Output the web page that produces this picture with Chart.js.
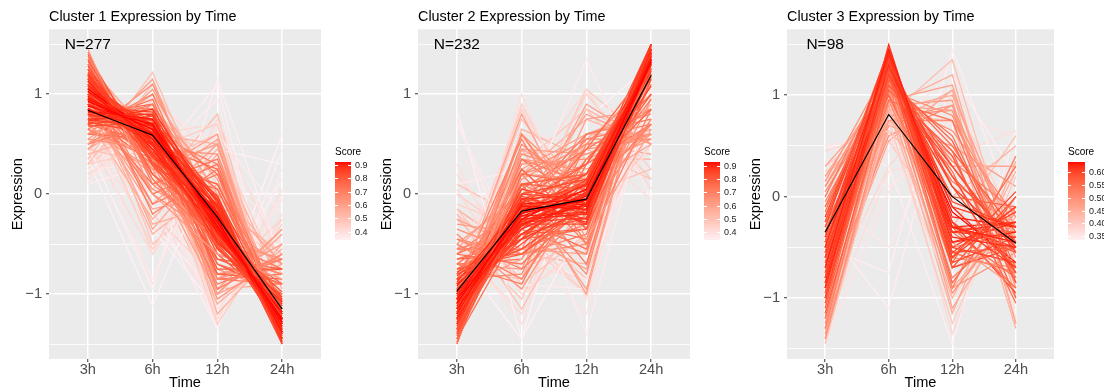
<!DOCTYPE html>
<html>
<head>
<meta charset="utf-8">
<script src="https://cdn.jsdelivr.net/npm/chart.js@4"></script>
<style>
  body { margin: 0; background: #fff; width: 1104px; height: 389px; overflow: hidden; position: relative; }
  canvas { position: absolute; top: 0; }
</style>
</head>
<body>
<canvas id="c1" width="369" height="389" style="left:0px"></canvas>
<canvas id="c2" width="369" height="389" style="left:369px"></canvas>
<canvas id="c3" width="366" height="389" style="left:738px"></canvas>
<script>
const times = ['3h', '6h', '12h', '24h'];
const yTicks = [-1.5, -1, -0.5, 0, 0.5, 1, 1.5];

// each line: 3h, 6h, 12h, 24h, score
const c1Lines = [
  [0.93,0.65,-0.28,-1.28,0.92],[1.03,0.55,-0.18,-1.38,0.91],[0.83,0.75,-0.38,-1.18,0.91],[1.13,0.45,-0.28,-1.28,0.89],
  [0.73,0.85,-0.18,-1.38,0.88],[1.03,0.55,-0.48,-1.08,0.88],[1.2,0.37,-0.14,-1.42,0.86],[0.78,0.8,-0.48,-1.08,0.87],
  [0.9,0.62,-0.06,-1.45,0.88],[1.13,0.45,-0.38,-1.18,0.9],[0.83,0.74,-0.08,-1.48,0.86],[1.05,0.6,-0.25,-1.38,0.92],
  [0.88,0.7,-0.32,-1.25,0.92],[0.98,0.58,-0.2,-1.33,0.91],[0.95,0.68,-0.35,-1.25,0.91],[0.85,0.62,-0.22,-1.3,0.9],
  [1.1,0.5,-0.33,-1.25,0.89],[0.8,0.68,-0.15,-1.4,0.88],[1.25,0.4,-0.35,-1.3,0.85],[0.7,0.78,-0.05,-1.45,0.84],
  [1.0,0.7,-0.45,-1.2,0.87],[0.9,0.5,-0.12,-1.35,0.88],[1.15,0.6,-0.5,-1.2,0.85],[0.75,0.65,-0.25,-1.18,0.86],
  [1.3,0.3,-0.45,-1.15,0.8],[1.22,0.4,-0.4,-1.22,0.84],[1.18,0.3,-0.25,-1.25,0.83],[1.08,0.42,-0.1,-1.4,0.86],
  [0.95,0.52,-0.02,-1.47,0.85],[0.68,0.72,-0.3,-1.12,0.82],[1.0,0.62,-0.55,-1.1,0.84],[0.92,0.78,-0.42,-1.28,0.86],
  [1.12,0.66,-0.4,-1.38,0.83],[0.86,0.56,-0.36,-1.06,0.85],[1.06,0.48,-0.3,-1.24,0.9],[0.97,0.6,-0.13,-1.44,0.87],
  [0.8,0.58,-0.4,-0.98,0.82],[1.35,0.2,-0.3,-1.25,0.78],[1.42,0.1,-0.45,-1.07,0.7],[1.45,0.0,-0.6,-0.85,0.62],
  [1.38,0.15,-0.5,-1.0,0.72],
  [0.96,0.56,-0.24,-1.3,0.92],[1.02,0.64,-0.34,-1.32,0.91],[0.9,0.6,-0.3,-1.2,0.92],[1.08,0.52,-0.2,-1.4,0.9],
  [0.82,0.7,-0.26,-1.26,0.9],[1.16,0.4,-0.2,-1.36,0.88],[0.76,0.74,-0.12,-1.38,0.87],[1.28,0.32,-0.22,-1.38,0.84],
  [1.4,0.28,-0.38,-1.3,0.8],[1.33,0.38,-0.53,-1.18,0.8],[0.72,0.6,-0.02,-1.3,0.84],[0.98,0.45,-0.4,-1.03,0.86],
  [1.06,0.7,-0.52,-1.24,0.85],[0.88,0.82,-0.3,-1.4,0.84],[1.18,0.52,-0.18,-1.5,0.85],[0.94,0.4,-0.22,-1.12,0.86],
  [0.5,1.15,-0.45,-1.2,0.6],[0.6,1.1,-0.35,-1.35,0.66],[0.45,1.05,-0.2,-1.3,0.62],[0.65,1.0,-0.45,-1.2,0.7],
  [0.7,0.95,-0.55,-1.1,0.75],[0.5,0.9,-0.1,-1.3,0.68],[0.6,0.6,0.3,-1.5,0.7],[0.7,0.5,0.25,-1.45,0.75],
  [0.55,0.45,0.4,-1.4,0.65],[0.5,0.7,0.2,-1.4,0.72],[1.0,0.65,-1.05,-0.6,0.65],[1.1,0.45,-0.9,-0.65,0.7],
  [0.8,0.75,-0.95,-0.6,0.68],[0.95,0.7,-0.8,-0.85,0.78],[1.2,0.3,-0.85,-0.65,0.65],[0.7,0.9,-0.7,-0.9,0.72],
  [0.9,0.6,-0.75,-0.75,0.8],[1.0,0.4,-0.65,-0.75,0.79],[1.0,0.55,-0.65,-0.9,0.8],[1.2,0.5,-0.7,-1.0,0.8],
  [1.1,0.65,-0.6,-1.15,0.8],[0.95,0.75,-0.7,-1.0,0.78],[1.2,-0.2,0.25,-1.25,0.7],[0.95,0.0,0.3,-1.25,0.72],
  [1.05,-0.1,0.2,-1.15,0.7],[0.85,0.1,0.35,-1.3,0.72],[0.8,0.3,0.1,-1.2,0.76],[0.75,0.4,-0.1,-1.05,0.77],
  [0.6,0.55,0.05,-1.2,0.74],[1.15,0.2,-0.45,-0.9,0.74],[0.85,0.35,-0.45,-0.75,0.72],[0.65,0.35,0.1,-1.1,0.7],
  [1.25,0.15,-0.6,-0.8,0.68],[0.9,0.85,-0.85,-0.9,0.7],[0.85,0.45,-0.95,-0.35,0.6],[1.1,0.25,-1.0,-0.35,0.6],
  [1.35,0.4,-0.75,-1.0,0.65],[0.7,0.2,0.6,-1.5,0.6],
  [0.95,0.05,-0.3,-0.7,0.62],[1.0,-0.3,-0.1,-0.6,0.55],[0.85,-0.15,0.0,-0.7,0.6],[1.1,0.0,-0.45,-0.65,0.66],
  [0.8,0.55,-0.85,-0.5,0.62],[1.05,0.6,-0.85,-0.8,0.74],[1.2,0.35,-0.8,-0.75,0.7],[0.9,0.5,-1.0,-0.4,0.58],
  [0.75,0.7,-0.8,-0.65,0.66],[1.15,0.4,-0.95,-0.6,0.64],[0.6,0.8,-0.6,-0.8,0.66],[0.55,1.0,0.0,-1.5,0.6],
  [0.45,0.85,0.15,-1.45,0.6],[0.8,0.9,-0.25,-1.45,0.78],[0.65,0.25,0.5,-1.4,0.62],[1.0,0.25,0.05,-1.3,0.76],
  [0.9,-0.1,0.5,-1.3,0.6],[0.7,0.1,0.55,-1.35,0.58],
  [0.35,1.22,-0.3,-1.27,0.5],[0.3,1.1,-0.05,-1.35,0.5],[0.4,0.6,0.5,-1.5,0.55],[0.3,0.45,0.7,-1.45,0.45],
  [0.45,0.3,0.6,-1.35,0.5],[0.9,0.8,-1.2,-0.5,0.55],[1.05,0.55,-1.3,-0.3,0.45],[0.85,0.85,-1.0,-0.7,0.6],
  [1.15,0.5,-1.1,-0.55,0.55],[1.1,-0.35,0.4,-1.15,0.58],[0.9,-0.55,0.55,-0.9,0.45],[0.8,-0.9,0.65,-0.55,0.38],
  [0.5,-0.95,1.15,-0.7,0.35],[1.0,-0.4,0.1,-0.7,0.55],[0.75,-0.25,0.45,-0.95,0.55],[0.15,1.0,0.3,-1.45,0.4],
  [0.2,0.6,0.7,-1.5,0.42],[0.1,0.9,0.5,-1.5,0.38],[0.25,0.3,0.95,-1.5,0.36],[0.3,0.75,-0.4,-0.65,0.45],
  [1.1,0.2,-1.3,0.0,0.38],[1.0,-0.1,-1.35,0.45,0.35],[1.3,-0.2,-0.85,-0.25,0.45],[0.9,0.6,-1.25,-0.25,0.42],
  [1.2,0.0,-1.15,-0.05,0.38],[0.6,0.9,-1.3,-0.2,0.4],[1.15,-0.3,-1.0,0.15,0.35],[0.1,0.3,1.1,-1.5,0.35],
  [0.9,-0.35,-1.15,0.6,0.34],[0.55,-0.6,0.75,-0.7,0.42],[0.45,-0.85,0.6,-0.2,0.36],[0.35,-1.12,0.45,0.3,0.34],
  [1.25,-0.5,0.05,-0.8,0.48],[1.05,-0.6,0.3,-0.75,0.42],[0.65,0.05,0.8,-1.5,0.5],[0.35,0.85,0.25,-1.45,0.48],
  [0.25,0.95,0.1,-1.3,0.45],[1.3,0.55,-0.95,-0.9,0.58],
  [0.6,-0.4,0.3,-0.5,0.4],[0.4,0.2,0.2,-0.8,0.4],[1.25,-0.1,-1.2,0.05,0.4],[0.8,0.3,-1.35,0.25,0.36],
  [1.3,0.2,-1.1,-0.4,0.5],[0.2,0.5,0.5,-1.2,0.4]
];
const c1Mean = [0.84, 0.59, -0.23, -1.15];
const c1Range = [0.34, 0.92];
const c1ScoreTicks = [0.4, 0.5, 0.6, 0.7, 0.8, 0.9];

const c2Lines = [
  [-1.09,-0.19,-0.06,1.33,0.93],[-1.2,-0.1,-0.05,1.35,0.92],[-0.98,-0.3,-0.1,1.38,0.91],[-1.15,-0.25,0.05,1.35,0.92],
  [-1.05,-0.12,-0.15,1.32,0.92],[-1.3,-0.05,0.0,1.35,0.88],[-0.9,-0.35,-0.05,1.3,0.89],[-1.25,-0.2,0.1,1.35,0.9],
  [-1.0,-0.25,-0.2,1.45,0.9],[-1.12,-0.08,-0.25,1.45,0.88],[-0.95,-0.15,0.1,1.0,0.8],[-1.4,0.0,0.15,1.25,0.84],
  [-1.45,-0.1,0.3,1.25,0.8],[-1.5,0.2,0.1,1.2,0.75],[-0.85,-0.45,-0.15,1.45,0.86],[-0.8,-0.55,-0.1,1.45,0.84],
  [-1.1,-0.4,0.0,1.5,0.87],[-1.2,-0.35,0.15,1.4,0.86],[-1.05,-0.05,-0.3,1.4,0.88],[-1.15,-0.15,-0.12,1.42,0.92],
  [-0.92,-0.22,-0.18,1.32,0.91],[-1.02,-0.32,0.02,1.32,0.9],[-1.35,-0.2,0.2,1.35,0.83],[-0.75,-0.6,-0.1,1.45,0.8],
  [-1.18,0.05,-0.1,1.23,0.87],[-1.28,-0.12,-0.08,1.48,0.86],[-0.88,-0.1,-0.28,1.26,0.88],[-1.08,-0.45,0.12,1.41,0.85],
  [-0.98,-0.02,-0.2,1.2,0.86],[-1.22,-0.28,0.0,1.5,0.87],[-1.45,-0.3,0.45,1.3,0.75],[-1.38,0.1,0.05,1.23,0.8],
  [-0.82,-0.3,-0.3,1.42,0.84],[-0.9,-0.45,-0.15,1.5,0.82],[-1.15,0.1,0.2,0.85,0.78],
  [-1.06,-0.22,-0.02,1.3,0.93],[-1.14,-0.14,-0.1,1.38,0.92],[-0.96,-0.26,-0.12,1.34,0.92],[-1.24,-0.16,0.04,1.36,0.9],
  [-1.32,-0.08,0.08,1.32,0.87],[-0.86,-0.28,-0.24,1.38,0.87],[-1.18,-0.3,0.0,1.48,0.88],[-1.42,-0.06,0.2,1.28,0.82],
  [-1.48,0.1,0.2,1.18,0.78],[-1.0,-0.4,-0.05,1.45,0.88],[-1.12,0.0,-0.05,1.17,0.86],[-0.94,-0.5,0.0,1.44,0.85],
  [-1.26,-0.04,-0.16,1.46,0.86],[-1.04,-0.18,0.14,1.08,0.84],[-1.36,-0.26,0.12,1.5,0.84],[-0.78,-0.4,-0.24,1.42,0.83],
  [-0.6,-0.7,-0.1,1.4,0.75],[-0.5,-0.85,0.05,1.3,0.7],[-0.7,-0.9,0.3,1.3,0.72],[-0.4,-0.95,0.1,1.25,0.65],
  [-0.65,-0.6,-0.15,1.4,0.78],[-1.2,0.5,0.0,0.7,0.7],[-1.1,0.6,-0.25,0.75,0.68],[-1.3,0.4,0.2,0.7,0.66],
  [-1.0,0.8,-0.45,0.65,0.6],[-1.25,0.3,0.35,0.6,0.65],[-0.9,0.55,-0.5,0.85,0.7],[-1.3,0.2,0.55,0.55,0.68],
  [-1.2,-0.1,0.8,0.5,0.62],[-1.1,-0.3,0.9,0.5,0.6],[-1.25,-0.1,0.6,0.75,0.72],[-1.35,0.05,0.45,0.85,0.74],
  [-0.85,-0.55,0.6,0.8,0.65],[-0.95,-0.65,0.75,0.85,0.6],[-1.0,0.0,0.3,0.7,0.76],[-1.4,0.35,0.1,0.95,0.72],
  [-0.7,-0.25,-0.55,1.5,0.75],[-0.6,-0.1,-0.8,1.5,0.68],[-0.8,0.1,-0.7,1.4,0.72],[-0.55,-0.35,-0.6,1.5,0.7],
  [-0.5,0.0,-0.95,1.45,0.62],[-0.3,-0.4,-0.75,1.45,0.62],[-0.55,0.1,-1.0,1.45,0.6],[-1.05,0.25,-0.35,1.15,0.8],
  [-0.75,-0.4,-0.35,1.5,0.8],[-1.3,0.6,0.0,0.7,0.65],[-0.45,-0.6,-0.4,1.45,0.7],[-0.85,-0.8,0.5,1.15,0.68],
  [-0.7,-0.65,0.35,1.0,0.74],[-1.5,0.45,0.4,0.65,0.62],[-1.45,0.25,0.6,0.6,0.6],[-1.1,0.1,-0.2,1.2,0.7],
  [-0.55,-0.55,-0.3,1.4,0.74],[-0.45,-0.75,-0.2,1.4,0.7],[-0.35,-0.6,-0.5,1.45,0.66],[-0.65,-0.45,-0.35,1.45,0.78],
  [-1.15,0.35,0.25,0.55,0.62],[-0.95,0.2,0.15,0.6,0.66],[-1.2,0.2,0.4,0.6,0.68],[-1.05,0.45,0.1,0.5,0.6],
  [-1.25,0.15,0.5,0.6,0.66],[-0.8,-0.2,0.45,0.55,0.64],[-1.1,-0.15,0.55,0.7,0.7],[-0.9,-0.45,0.35,1.0,0.74],
  [-1.35,0.35,-0.1,1.1,0.76],[-1.2,0.6,-0.35,0.95,0.64],[-0.6,-0.3,-0.45,1.35,0.74],[-0.7,-0.75,0.6,0.85,0.62],
  [-0.25,-0.55,-0.6,1.4,0.6],[-0.85,0.2,-0.5,1.15,0.72],
  [-0.2,-1.15,0.0,1.35,0.5],[0.05,-1.0,-0.5,1.45,0.42],[-0.15,-0.9,-0.4,1.45,0.48],[0.75,-0.9,-0.95,1.1,0.36],
  [0.85,-1.45,-0.25,0.85,0.34],[-0.1,-0.35,-1.0,1.45,0.45],[0.1,0.25,-1.4,1.05,0.36],[-1.2,1.0,-0.55,0.75,0.4],
  [-1.1,0.9,-0.3,0.5,0.45],[-0.9,0.85,-0.6,0.65,0.45],[-1.0,0.75,0.0,0.25,0.5],[-0.8,0.8,-0.5,0.5,0.4],
  [-1.1,-0.2,1.35,-0.05,0.36],[-1.2,0.1,1.05,0.05,0.42],[-0.95,-0.3,1.0,0.25,0.45],[-1.3,0.3,0.85,0.15,0.48],
  [-1.0,-0.35,0.85,0.5,0.55],[-1.45,0.2,0.75,0.5,0.55],[0.0,-0.45,-1.0,1.45,0.45],[-0.2,-0.75,-0.45,1.4,0.5],
  [0.45,-0.5,-1.2,1.25,0.38],[0.3,-0.95,-0.6,1.25,0.4],[-0.6,0.6,-1.05,1.05,0.4],[-1.25,0.45,-0.5,1.3,0.55],
  [-0.4,-1.05,0.3,1.15,0.48],[-0.6,-1.45,0.75,1.3,0.34],[-0.5,-1.2,0.5,1.2,0.42],[-0.25,-0.85,0.2,0.9,0.55],
  [-1.0,0.4,0.45,0.15,0.5],[-0.9,0.0,0.5,0.4,0.58],[-1.35,0.65,0.35,0.35,0.55],[0.7,-0.6,-0.85,0.75,0.36],
  [0.1,-0.25,-0.85,1.0,0.5],
  [-0.15,-0.6,-0.7,1.45,0.55],[0.2,-0.7,-0.85,1.35,0.42],[-1.3,0.85,-0.25,0.7,0.42],[-1.05,0.6,0.5,-0.05,0.4],
  [-1.2,-0.35,1.05,0.5,0.48],[-0.75,-0.85,0.55,1.05,0.55],[-0.4,-1.3,0.45,1.25,0.4]
];
const c2Mean = [-0.97, -0.17, -0.05, 1.19];
const c2Range = [0.34, 0.93];
const c2ScoreTicks = [0.4, 0.5, 0.6, 0.7, 0.8, 0.9];

const c3Lines = [
  [-0.7,1.45,-0.3,-0.45,0.63],[-0.9,1.3,-0.1,-0.3,0.62],[-1.0,1.35,-0.05,-0.3,0.6],[-0.5,1.4,-0.4,-0.5,0.62],
  [-0.8,1.2,0.1,-0.5,0.6],[-0.4,1.35,-0.25,-0.7,0.61],[-0.6,1.3,-0.6,-0.1,0.6],[-1.05,1.25,0.3,-0.5,0.58],
  [-0.75,1.4,-0.55,-0.1,0.6],[-0.3,1.45,-0.5,-0.65,0.6],[-0.95,1.15,0.55,-0.75,0.57],[-0.55,1.25,-0.7,0.0,0.58],
  [-0.85,1.45,-0.35,-0.25,0.62],[-0.65,1.1,0.4,-0.85,0.57],[-1.1,1.2,0.0,-0.1,0.56],[-0.45,1.3,-0.85,0.0,0.56],
  [-0.35,1.2,-0.3,-0.55,0.58],[-0.7,1.35,0.1,-0.75,0.6],[-0.9,1.4,-0.2,-0.3,0.63],[-0.6,1.15,0.2,-0.75,0.59],
  [-0.25,1.3,-0.55,-0.5,0.57],[-1.0,1.1,0.6,-0.7,0.55],[-0.8,1.5,-0.45,-0.25,0.62],[-0.5,1.05,0.45,-1.0,0.56],
  [-0.15,1.35,-0.3,-0.9,0.55],[-0.4,1.45,-0.65,-0.4,0.6],[-0.85,0.95,0.75,-0.85,0.54],[-0.3,1.1,0.25,-1.05,0.55],
  [-0.95,1.3,-0.65,0.3,0.55],[-0.7,1.2,-0.9,0.4,0.52],
  [-0.45,1.2,-0.35,-0.4,0.62],[-0.6,1.4,-0.45,-0.35,0.63],[-0.5,1.3,-0.3,-0.5,0.62],[-0.8,1.35,-0.6,0.05,0.6],
  [0.1,1.2,-0.6,-0.7,0.5],[0.0,1.3,-0.55,-0.75,0.53],[-0.1,1.25,-0.35,-0.8,0.55],[0.2,1.15,-0.45,-0.9,0.47],
  [-0.2,1.4,-0.7,-0.5,0.6],[-0.05,1.1,-0.8,-0.25,0.52],[0.15,1.3,-0.9,-0.55,0.49],[-0.25,1.45,-0.25,-0.95,0.6],
  [-0.45,1.25,-0.15,-0.65,0.64],[-0.55,1.35,-0.1,-0.7,0.62],[-1.0,1.25,0.2,-0.45,0.6],[-0.85,1.1,0.3,-0.55,0.6],
  [-1.15,1.05,0.45,-0.35,0.57],[-0.65,1.2,-0.3,-0.25,0.63],[-0.35,1.0,-0.3,-0.35,0.57],[-0.5,1.15,-0.5,-0.15,0.6],
  [-1.3,1.1,0.35,-0.15,0.52],[-1.4,0.95,0.65,-0.2,0.5],[-1.2,1.15,0.5,-0.45,0.54],[-0.1,0.95,-0.5,-0.35,0.5],
  [0.3,1.0,-0.55,-0.75,0.46],[0.05,1.05,-0.95,-0.15,0.5],[-0.75,0.75,0.9,-0.9,0.48],[-1.35,0.9,0.85,-0.4,0.47],
  [-1.25,1.05,0.8,-0.6,0.5],[-1.4,0.85,1.0,-0.45,0.46],[-1.1,0.9,1.2,-1.0,0.45],[-1.45,0.8,1.35,-0.7,0.42],
  [-1.2,0.95,1.1,-0.85,0.47],[0.1,1.05,-0.7,-0.45,0.48],[0.2,0.9,-0.9,-0.2,0.45],[0.0,1.2,-1.1,-0.1,0.46],
  [-0.1,0.85,-1.0,0.25,0.44],[0.45,0.65,-1.0,-0.1,0.38],[0.3,0.75,-1.25,0.2,0.4],[-0.2,1.0,-1.15,0.35,0.45],
  [-1.0,0.6,0.9,-0.5,0.5],[-1.3,0.7,0.5,0.1,0.48],[-1.35,0.75,0.3,0.3,0.46],[-1.15,0.65,0.0,0.5,0.44],
  [-1.3,1.0,-0.3,0.6,0.42],[-1.2,0.75,0.75,-0.3,0.5],[-0.5,0.7,1.05,-1.25,0.45],[-0.8,0.8,0.85,-0.85,0.52],
  [-0.6,0.9,0.95,-1.25,0.48],[-0.25,0.8,0.75,-1.3,0.44],[-0.9,1.05,0.15,-0.3,0.53],[-0.55,0.95,0.4,-0.8,0.52],
  [-1.05,0.55,1.05,-0.55,0.46],
  [0.5,0.6,0.0,-1.1,0.36],[0.35,0.1,0.55,-1.0,0.35],[-0.5,-0.75,1.45,-0.2,0.34],[-0.3,-1.1,1.2,0.2,0.34],
  [0.5,0.3,-1.45,0.65,0.34],[-1.45,0.05,0.8,0.6,0.36],[0.0,-0.5,0.8,-0.3,0.35],[-0.6,0.45,1.35,-1.2,0.36],
  [0.25,0.55,-0.4,-0.4,0.4],[-1.0,0.3,1.0,-0.3,0.38],[0.15,0.9,-1.35,0.3,0.38],[-1.3,0.25,0.4,0.65,0.37]
];
const c3Mean = [-0.35, 0.81, 0.0, -0.46];
const c3Range = [0.335, 0.64];
const c3ScoreTicks = [0.35, 0.40, 0.45, 0.50, 0.55, 0.60];

const FONT = '"Liberation Sans", Arial, Helvetica, sans-serif';
Chart.defaults.font.family = FONT;

// colour scale white-pink -> red, interpolated in Lab like ggplot
function hexToRgb(h) { return [1, 3, 5].map(i => parseInt(h.slice(i, i + 2), 16)); }
function rgbToLab(c) {
  const f = v => { v /= 255; return v <= 0.04045 ? v / 12.92 : Math.pow((v + 0.055) / 1.055, 2.4); };
  const R = f(c[0]), G = f(c[1]), B = f(c[2]);
  const X = (R * 0.4124 + G * 0.3576 + B * 0.1805) / 0.95047;
  const Y = R * 0.2126 + G * 0.7152 + B * 0.0722;
  const Z = (R * 0.0193 + G * 0.1192 + B * 0.9505) / 1.08883;
  const g = t => t > 0.008856 ? Math.cbrt(t) : 7.787 * t + 16 / 116;
  return [116 * g(Y) - 16, 500 * (g(X) - g(Y)), 200 * (g(Y) - g(Z))];
}
function labToRgb(l) {
  const fy = (l[0] + 16) / 116, fx = fy + l[1] / 500, fz = fy - l[2] / 200;
  const inv = t => t * t * t > 0.008856 ? t * t * t : (t - 16 / 116) / 7.787;
  const X = inv(fx) * 0.95047, Y = inv(fy), Z = inv(fz) * 1.08883;
  const R = 3.2406 * X - 1.5372 * Y - 0.4986 * Z;
  const G = -0.9689 * X + 1.8758 * Y + 0.0415 * Z;
  const B = 0.0557 * X - 0.2040 * Y + 1.0570 * Z;
  const f = v => { v = v <= 0.0031308 ? 12.92 * v : 1.055 * Math.pow(v, 1 / 2.4) - 0.055; return Math.round(Math.max(0, Math.min(1, v)) * 255); };
  return [f(R), f(G), f(B)];
}
const lowLab = rgbToLab(hexToRgb('#fff0f5'));
const highLab = rgbToLab(hexToRgb('#ff0000'));
function scoreColor(s, range) {
  let t = (s - range[0]) / (range[1] - range[0]);
  t = Math.max(0, Math.min(1, t));
  const c = labToRgb(lowLab.map((v, i) => v + (highLab[i] - v) * t));
  return 'rgb(' + c.join(',') + ')';
}

const panelBg = {
  id: 'panelBg',
  beforeDraw(chart) {
    const { ctx, chartArea: a } = chart;
    ctx.save();
    ctx.fillStyle = '#ebebeb';
    ctx.fillRect(a.left, a.top, a.right - a.left, a.bottom - a.top);
    ctx.restore();
  }
};

const nLabel = {
  id: 'nLabel',
  afterDatasetsDraw(chart, args, opts) {
    const { ctx, scales } = chart;
    ctx.save();
    ctx.font = '15.5px ' + FONT;
    ctx.fillStyle = '#000';
    ctx.textAlign = 'center';
    ctx.textBaseline = 'middle';
    ctx.fillText(opts.text, scales.x.getPixelForValue(1), scales.y.getPixelForValue(1.5));
    ctx.restore();
  }
};

const colorbar = {
  id: 'colorbar',
  afterDraw(chart, args, opts) {
    const { ctx, chartArea: a } = chart;
    const x0 = a.right + 14, top = 162, h = 78, w = opts.width;
    const [lo, hi] = opts.range;
    ctx.save();
    for (let i = 0; i < h; i++) {
      ctx.fillStyle = scoreColor(hi - (i + 0.5) / h * (hi - lo), opts.range);
      ctx.fillRect(x0, top + i, w, 1);
    }
    ctx.font = '9px ' + FONT;
    ctx.textBaseline = 'middle';
    ctx.textAlign = 'left';
    opts.ticks.forEach(t => {
      const y = Math.round(top + (hi - t) / (hi - lo) * h) + 0.5;
      ctx.strokeStyle = '#fff';
      ctx.lineWidth = 1;
      ctx.beginPath();
      ctx.moveTo(x0, y); ctx.lineTo(x0 + 3, y);
      ctx.moveTo(x0 + w - 3, y); ctx.lineTo(x0 + w, y);
      ctx.stroke();
      ctx.fillStyle = '#222';
      ctx.fillText(t.toFixed(opts.digits), x0 + w + 4, y);
    });
    ctx.font = '10px ' + FONT;
    ctx.fillStyle = '#000';
    ctx.fillText('Score', x0, 152);
    ctx.restore();
  }
};

function makeChart(id, title, lines, mean, range, scoreTicks, digits, n, yMin, padRight, barW) {
  const datasets = [{
    data: mean.map((v, i) => ({ x: i + 1, y: v })),
    borderColor: '#000', borderWidth: 1.2
  }];
  lines.forEach(r => {
    datasets.push({
      data: r.slice(0, 4).map((v, i) => ({ x: i + 1, y: v })),
      borderColor: scoreColor(r[4], range), borderWidth: 1.3
    });
  });
  const isMajor = c => c.tick && Number.isInteger(c.tick.value);
  new Chart(document.getElementById(id), {
    type: 'line',
    data: { datasets },
    options: {
      responsive: false, animation: false, devicePixelRatio: 1, events: [],
      elements: { point: { radius: 0 }, line: { tension: 0 } },
      layout: { padding: { left: 0, right: padRight, top: 0, bottom: 0 } },
      scales: {
        x: {
          type: 'linear', min: 0.4, max: 4.6,
          afterBuildTicks: s => { s.ticks = [1, 2, 3, 4].map(v => ({ value: v })); },
          afterFit: s => { s.height = 30; },
          ticks: { callback: v => times[v - 1], color: '#4d4d4d', padding: 0.5, autoSkip: false, maxRotation: 0,
                   font: { size: 14.6, lineHeight: 1 } },
          grid: { color: '#fff', lineWidth: 1.5, tickColor: '#333', tickLength: 3, tickWidth: 1 },
          border: { display: false },
          title: { display: true, text: 'Time', color: '#000', font: { size: 14.6, lineHeight: 1 }, padding: { top: 0, bottom: -1.5 } }
        },
        y: {
          type: 'linear', min: yMin, max: 1.65,
          afterBuildTicks: s => { s.ticks = yTicks.map(v => ({ value: v })); },
          afterFit: s => { s.width = 49; },
          ticks: { callback: v => Number.isInteger(v) ? String(v).replace('-', '\u2212') : '', color: '#4d4d4d',
                   padding: 4, autoSkip: false, font: { size: 14.6, lineHeight: 1 } },
          grid: { color: '#fff', lineWidth: c => isMajor(c) ? 1.5 : 0.8,
                  tickColor: c => isMajor(c) ? '#333' : 'rgba(0,0,0,0)', tickLength: 3, tickWidth: 1 },
          border: { display: false },
          title: { display: true, text: 'Expression', color: '#000', font: { size: 14.6, lineHeight: 1 }, padding: { top: 10.8, bottom: 0 } }
        }
      },
      plugins: {
        legend: { display: false },
        tooltip: { enabled: false },
        title: { display: true, text: title, align: 'start', fullSize: false, color: '#000',
                 font: { size: 14.4, weight: 'normal', lineHeight: 1.2 }, padding: { top: 8, bottom: 4 } },
        nLabel: { text: n },
        colorbar: { range, ticks: scoreTicks, digits, width: barW }
      }
    },
    plugins: [panelBg, nLabel, colorbar]
  });
}

makeChart('c1', 'Cluster 1 Expression by Time', c1Lines, c1Mean, c1Range, c1ScoreTicks, 1, 'N=277', -1.65, 48, 16);
makeChart('c2', 'Cluster 2 Expression by Time', c2Lines, c2Mean, c2Range, c2ScoreTicks, 1, 'N=232', -1.65, 48, 16);
makeChart('c3', 'Cluster 3 Expression by Time', c3Lines, c3Mean, c3Range, c3ScoreTicks, 2, 'N=98', -1.60, 50, 17);
</script>
</body>
</html>
